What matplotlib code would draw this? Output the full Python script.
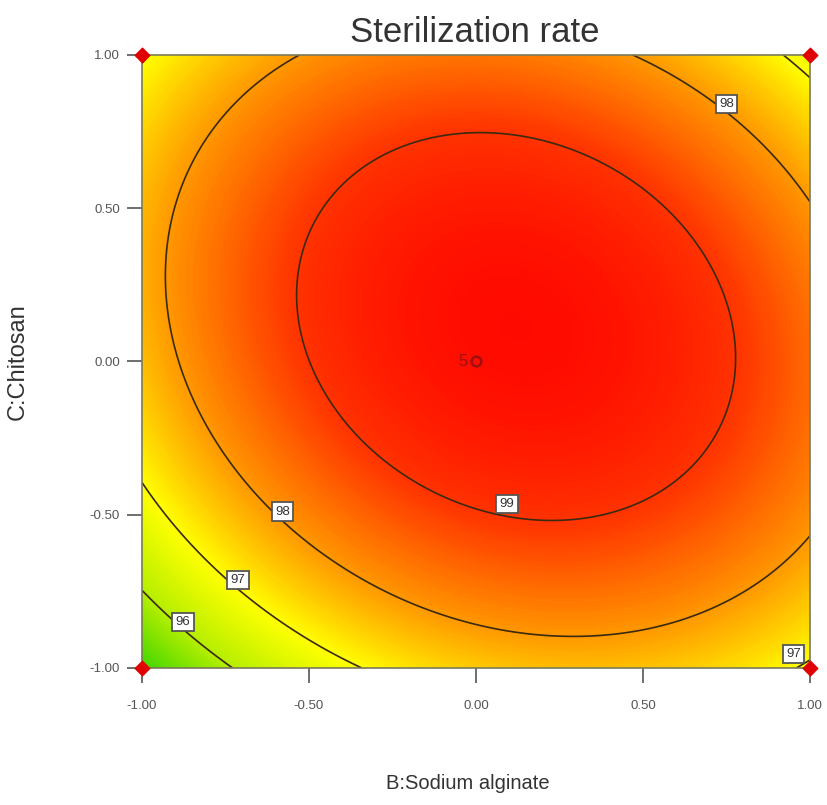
import numpy as np
import matplotlib
matplotlib.use("Agg")
import matplotlib.pyplot as plt
from matplotlib.colors import LinearSegmentedColormap, Normalize

plt.rcParams['font.family'] = ['Liberation Sans', 'DejaVu Sans']
plt.rcParams['axes.unicode_minus'] = False

# Quadratic response-surface model (coded factors B, C)
model_terms = ["const", "B", "C", "B2", "C2", "BC"]
model_coefs = [99.593, 0.427, 0.439, -1.531, -1.652, -0.518]

contour_levels = [96, 97, 98, 99]
label_positions = [(0.75, 0.84), (0.093, -0.465), (-0.58, -0.49),
                   (-0.713, -0.713), (-0.877, -0.85), (0.95, -0.955)]
design_corners_b = [-1, 1, -1, 1]
design_corners_c = [-1, -1, 1, 1]
center_point = (0.0, 0.0)
center_count = "5"
tick_values = [-1.0, -0.5, 0.0, 0.5, 1.0]

color_values = [95.0, 96.0, 97.0, 97.5, 98.0, 98.5, 99.0, 99.65]
color_list = ["#3ad400", "#b4ee00", "#ffff00", "#ffcc00", "#ff9900",
              "#ff6a00", "#ff3300", "#ff0a00"]

vmin, vmax = color_values[0], color_values[-1]
cmap = LinearSegmentedColormap.from_list(
    "rsm", [((v - vmin) / (vmax - vmin), c) for v, c in zip(color_values, color_list)])

fig = plt.figure(figsize=(8.27, 8.05), dpi=100)
ax = fig.add_axes([0.1717, 0.1702, 0.8077, 0.7615])

g = np.linspace(-1, 1, 400)
B, C = np.meshgrid(g, g)
b = model_coefs
Z = b[0] + b[1]*B + b[2]*C + b[3]*B*B + b[4]*C*C + b[5]*B*C

ax.contourf(B, C, Z, 256, cmap=cmap, norm=Normalize(vmin, vmax))
cs = ax.contour(B, C, Z, levels=contour_levels, colors='#3a2a10', linewidths=1.2)
texts = ax.clabel(cs, fmt='%d', manual=label_positions, inline=False,
                  fontsize=9.5)
lp = np.array(label_positions)
for t in texts:
    t.set_rotation(0)
    t.set_color('#333333')
    t.set_zorder(6)
    px, py = t.get_position()
    k = np.argmin((lp[:, 0] - px) ** 2 + (lp[:, 1] - py) ** 2)
    t.set_position(tuple(lp[k]))
    t.set_bbox(dict(boxstyle='square,pad=0.25', fc='white', ec='#555555', lw=1.3))

ax.scatter(design_corners_b, design_corners_c, marker='D', s=55, color='#e00000',
           clip_on=False, zorder=7)
ax.plot([center_point[0]], [center_point[1]], marker='o', ms=7, mfc='none',
        mec='#a01010', mew=1.8, zorder=5)
ax.text(center_point[0] - 0.025, center_point[1], center_count, color='#a01010',
        fontsize=12, ha='right', va='center', zorder=5)

ax.set_xlim(-1, 1)
ax.set_ylim(-1, 1)
ax.set_xticks(tick_values)
ax.set_yticks(tick_values)
ax.set_xticklabels([f"{v:.2f}" for v in tick_values])
ax.set_yticklabels([f"{v:.2f}" for v in tick_values])
ax.tick_params(direction='out', length=11, width=1.2, colors='#555555',
               labelsize=9.5)
ax.tick_params(axis='x', pad=12)
ax.tick_params(axis='y', pad=5)
for s in ax.spines.values():
    s.set_color('#7a7a5a')
    s.set_linewidth(1.2)

fig.text(0.574, 0.960, "Sterilization rate", fontsize=25, color='#333333',
         ha='center', va='center')
fig.text(0.566, 0.027, "B:Sodium alginate", fontsize=14.5, color='#333333',
         ha='center', va='center')
fig.text(0.022, 0.551, "C:Chitosan", fontsize=17, color='#333333',
         ha='center', va='center', rotation=90)

fig.savefig("out.png", dpi=100)
